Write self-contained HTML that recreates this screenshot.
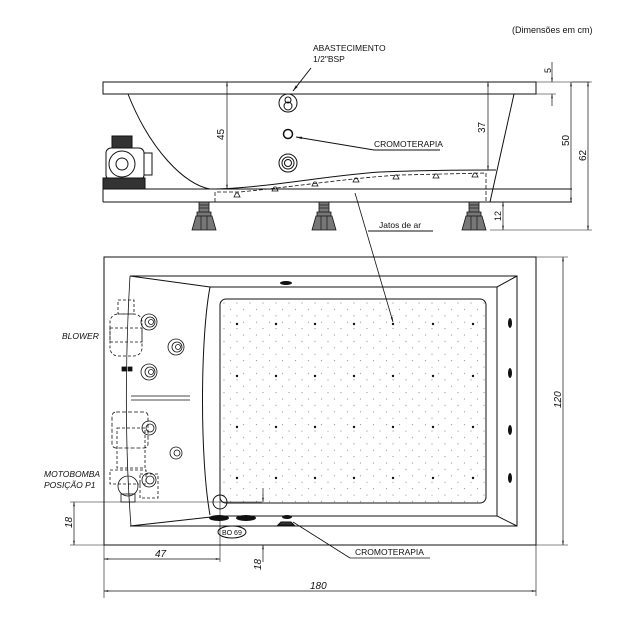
<!DOCTYPE html>
<html><head><meta charset="utf-8"><style>
html,body{margin:0;padding:0;background:#fff}
svg{display:block}
text{font-family:"Liberation Sans",sans-serif;fill:#111}
</style></head><body>
<svg width="640" height="640" viewBox="0 0 640 640" xmlns="http://www.w3.org/2000/svg">
<defs>
<marker id="a" viewBox="0 0 10 10" refX="10" refY="5" markerWidth="8" markerHeight="6" orient="auto-start-reverse"><path d="M0,3 L10,5 L0,7 z" fill="#111"/></marker>
<pattern id="dots" x="220" y="299" width="13" height="12.8" patternUnits="userSpaceOnUse">
<circle cx="4" cy="4" r="0.6" fill="#999"/><circle cx="10.5" cy="10.4" r="0.6" fill="#999"/>
</pattern>
</defs>
<g fill="none" stroke="#111" stroke-width="1">
<text x="512" y="33" font-size="9" stroke="none">(Dimensões em  cm)</text>

<!-- SIDE VIEW -->
<rect x="103" y="82" width="433" height="12"/>
<line x1="536" y1="82" x2="590" y2="82" stroke-width="0.6"/>
<line x1="536" y1="94" x2="556" y2="94" stroke-width="0.6"/>
<path d="M103,189 H572 M103,202 H572 M103,189 V202"/>
<path d="M128,94 C150,150 185,185 210,189 C260,189 330,175 380,172 C430,170 470,170 496,170"/>
<path d="M514,94 L490,202"/>
<path d="M215,202 V192 L240,192 C300,186 350,178 400,175 L486,173 V202" stroke-dasharray="4,2" stroke-width="0.8"/>
<g fill="none" stroke-width="0.8">
<path d="M234,197 l2,-4 h2 l2,4z M272,191 l2,-4 h2 l2,4z M312,186 l2,-4 h2 l2,4z M353,182 l2,-4 h2 l2,4z M393,179 l2,-4 h2 l2,4z M433,178 l2,-4 h2 l2,4z M472,177 l2,-4 h2 l2,4z"/>
</g>
<!-- motor side -->
<rect x="112" y="136" width="20" height="12" fill="#333"/>
<rect x="106" y="148" width="38" height="32" rx="5"/>
<circle cx="122" cy="164" r="13"/><circle cx="122" cy="164" r="6"/>
<rect x="144" y="153" width="8" height="22"/>
<rect x="103" y="178" width="42" height="11" fill="#333"/>
<!-- legs -->
<g stroke-width="0.8">
<path d="M199,202 h10 v10 h-10z M197,212 h14 v4 h-14z M196,216 l-4,14 h24 l-4,-14z" fill="#777"/>
<path d="M199,205 h10 M199,208 h10 M201,216 v14 M207,216 v14" stroke="#222"/>
<path d="M319,202 h10 v10 h-10z M317,212 h14 v4 h-14z M316,216 l-4,14 h24 l-4,-14z" fill="#777"/>
<path d="M319,205 h10 M319,208 h10 M321,216 v14 M327,216 v14" stroke="#222"/>
<path d="M469,202 h10 v10 h-10z M467,212 h14 v4 h-14z M466,216 l-4,14 h24 l-4,-14z" fill="#777"/>
<path d="M469,205 h10 M469,208 h10 M471,216 v14 M477,216 v14" stroke="#222"/>
</g>
<!-- fittings -->
<circle cx="288" cy="103" r="9"/><circle cx="288" cy="100" r="3"/><circle cx="288" cy="106" r="4"/>
<circle cx="288" cy="134" r="4.5" stroke-width="1.5"/>
<circle cx="288" cy="163" r="9"/><circle cx="288" cy="163" r="6"/><circle cx="288" cy="163" r="3.5"/>
<!-- labels -->
<text x="313" y="51" font-size="8.5" stroke="none">ABASTECIMENTO</text>
<text x="313" y="62" font-size="8.5" stroke="none">1/2"BSP</text>
<line x1="311" y1="68" x2="293" y2="91" marker-end="url(#a)"/>
<text x="374" y="147" font-size="8.5" stroke="none">CROMOTERAPIA</text>
<path d="M374,150 H440 M374,150 L296,137" marker-end="url(#a)"/>
<text x="379" y="228" font-size="8.5" stroke="none">Jatos de ar</text>
<line x1="368" y1="231" x2="433" y2="231"/>
<line x1="355" y1="193" x2="393" y2="322" marker-end="url(#a)" stroke-width="0.8"/>
<!-- side dims -->
<line x1="227" y1="82" x2="227" y2="189" marker-start="url(#a)" marker-end="url(#a)" stroke-width="0.7"/>
<text x="0" y="0" font-size="10" stroke="none" transform="translate(224,140) rotate(-90)">45</text>
<line x1="488" y1="82" x2="488" y2="170" marker-start="url(#a)" marker-end="url(#a)" stroke-width="0.7"/>
<text x="0" y="0" font-size="10" stroke="none" transform="translate(485,133) rotate(-90)">37</text>
<line x1="571" y1="82" x2="571" y2="202" marker-start="url(#a)" marker-end="url(#a)" stroke-width="0.7"/>
<text x="0" y="0" font-size="10" stroke="none" fill="#555" transform="translate(569,146) rotate(-90)">50</text>
<line x1="588" y1="82" x2="588" y2="230" marker-start="url(#a)" marker-end="url(#a)" stroke-width="0.7"/>
<text x="0" y="0" font-size="10" stroke="none" transform="translate(586,161) rotate(-90)">62</text>
<path d="M572,82 H592 M490,230 H592" stroke-width="0.6"/>
<line x1="552" y1="62" x2="552" y2="82" marker-end="url(#a)" stroke-width="0.7"/>
<line x1="552" y1="106" x2="552" y2="94" marker-end="url(#a)" stroke-width="0.7"/>
<text x="0" y="0" font-size="9" stroke="none" transform="translate(551,73) rotate(-90)">5</text>
<line x1="503" y1="202" x2="503" y2="230" marker-start="url(#a)" marker-end="url(#a)" stroke-width="0.7"/>
<text x="0" y="0" font-size="9" stroke="none" fill="#555" transform="translate(501,221) rotate(-90)">12</text>

<!-- TOP VIEW -->
<rect x="104" y="257" width="432" height="288"/>
<path d="M130,276 H517 V526 H130 M130,276 L210,287 H497 L517,276 M497,287 V516 L517,526 M497,516 H220 L130,526"/>
<path d="M130,276 C125,360 125,450 131,526" stroke-width="0.8"/>
<path d="M210,287 C200,340 200,460 210,515"/>
<rect x="220" y="299" width="266" height="204" rx="6" fill="url(#dots)"/>
<g fill="#111" stroke="none">
<circle cx="237" cy="324" r="1.2"/><circle cx="276" cy="324" r="1.2"/><circle cx="315" cy="324" r="1.2"/><circle cx="354" cy="324" r="1.2"/><circle cx="393" cy="324" r="1.2"/><circle cx="433" cy="324" r="1.2"/><circle cx="473" cy="324" r="1.2"/>
<circle cx="237" cy="376" r="1.2"/><circle cx="276" cy="376" r="1.2"/><circle cx="315" cy="376" r="1.2"/><circle cx="354" cy="376" r="1.2"/><circle cx="393" cy="376" r="1.2"/><circle cx="433" cy="376" r="1.2"/><circle cx="473" cy="376" r="1.2"/>
<circle cx="237" cy="427" r="1.2"/><circle cx="276" cy="427" r="1.2"/><circle cx="315" cy="427" r="1.2"/><circle cx="354" cy="427" r="1.2"/><circle cx="393" cy="427" r="1.2"/><circle cx="433" cy="427" r="1.2"/><circle cx="473" cy="427" r="1.2"/>
<circle cx="237" cy="478" r="1.2"/><circle cx="276" cy="478" r="1.2"/><circle cx="315" cy="478" r="1.2"/><circle cx="354" cy="478" r="1.2"/><circle cx="393" cy="478" r="1.2"/><circle cx="433" cy="478" r="1.2"/><circle cx="473" cy="478" r="1.2"/>
<ellipse cx="510" cy="323" rx="2" ry="5"/><ellipse cx="510" cy="373" rx="2" ry="5"/><ellipse cx="510" cy="430" rx="2" ry="5"/><ellipse cx="510" cy="478" rx="2" ry="5"/>
<ellipse cx="286" cy="283" rx="6" ry="2"/>
<ellipse cx="219" cy="518" rx="10" ry="3"/><ellipse cx="246" cy="518" rx="10" ry="3"/>
<ellipse cx="287" cy="517" rx="5" ry="2"/>
</g>
<path d="M281,522 h10 l3,3 h-16z" fill="#333"/>
<circle cx="220" cy="502" r="7"/>
<ellipse cx="232" cy="532" rx="14" ry="6"/>
<text x="222" y="535" font-size="7" stroke="none">BO 69</text>
<!-- blower -->
<g stroke-width="0.8">
<rect x="118" y="300" width="16" height="14" stroke-dasharray="3,2"/>
<rect x="110" y="314" width="32" height="42" rx="8" stroke-dasharray="3,2"/>
<rect x="110" y="328" width="32" height="14" stroke-dasharray="3,2"/>
<rect x="122" y="367" width="4" height="4" fill="#111"/><rect x="128" y="367" width="4" height="4" fill="#111"/>
<circle cx="149" cy="322" r="8"/><circle cx="150" cy="322" r="5"/><circle cx="151" cy="322" r="2.5"/>
<circle cx="176" cy="347" r="8"/><circle cx="177" cy="347" r="5"/><circle cx="178" cy="347" r="2.5"/>
<circle cx="149" cy="372" r="8"/><circle cx="150" cy="372" r="5"/><circle cx="151" cy="372" r="2.5"/>
<path d="M131,396 H190 M131,400 H190"/>
<rect x="112" y="412" width="36" height="36" rx="4" stroke-dasharray="4,2"/>
<rect x="117" y="428" width="28" height="40" stroke-dasharray="3,2"/>
<rect x="110" y="470" width="36" height="14" stroke-dasharray="3,2"/>
<circle cx="128" cy="486" r="10"/>
<rect x="121" y="494" width="14" height="8"/>
<circle cx="149" cy="428" r="7"/><circle cx="150" cy="428" r="4"/>
<circle cx="176" cy="453" r="6"/><circle cx="177" cy="453" r="3"/>
<circle cx="149" cy="480" r="7"/><circle cx="150" cy="480" r="4"/>
<rect x="140" y="474" width="18" height="24" stroke-dasharray="3,2"/>
</g>
<text x="62" y="339" font-size="8.5" font-style="italic" stroke="none">BLOWER</text>
<text x="44" y="477" font-size="8.5" font-style="italic" stroke="none">MOTOBOMBA</text>
<text x="44" y="488" font-size="8.5" font-style="italic" stroke="none">POSIÇÃO  P1</text>
<!-- top dims -->
<path d="M536,257 H568 M536,545 H568" stroke-width="0.6"/>
<line x1="563" y1="257" x2="563" y2="545" marker-start="url(#a)" marker-end="url(#a)" stroke-width="0.7"/>
<text x="0" y="0" font-size="10" font-style="italic" stroke="none" transform="translate(561,408) rotate(-90)">120</text>
<path d="M104,545 V598 M536,545 V596" stroke-width="0.6"/>
<line x1="104" y1="591" x2="536" y2="591" marker-start="url(#a)" marker-end="url(#a)" stroke-width="0.7"/>
<text x="310" y="589" font-size="10" font-style="italic" stroke="none">180</text>
<path d="M70,502 H262 M70,545 H104 M220,495 V562" stroke-width="0.6"/>
<line x1="74" y1="502" x2="74" y2="545" marker-start="url(#a)" marker-end="url(#a)" stroke-width="0.7"/>
<text x="0" y="0" font-size="10" font-style="italic" stroke="none" transform="translate(72,528) rotate(-90)">18</text>
<line x1="104" y1="559" x2="220" y2="559" marker-start="url(#a)" marker-end="url(#a)" stroke-width="0.7"/>
<text x="155" y="557" font-size="10" font-style="italic" stroke="none">47</text>
<line x1="263" y1="488" x2="263" y2="502" marker-end="url(#a)" stroke-width="0.7"/>
<line x1="263" y1="562" x2="263" y2="545" marker-end="url(#a)" stroke-width="0.7"/>
<text x="0" y="0" font-size="10" font-style="italic" stroke="none" transform="translate(261,570) rotate(-90)">18</text>
<text x="355" y="555" font-size="8.5" stroke="none">CROMOTERAPIA</text>
<path d="M350,558 H430 M350,558 L293,522" stroke-width="0.8"/>
</g>
</svg>
</body></html>
